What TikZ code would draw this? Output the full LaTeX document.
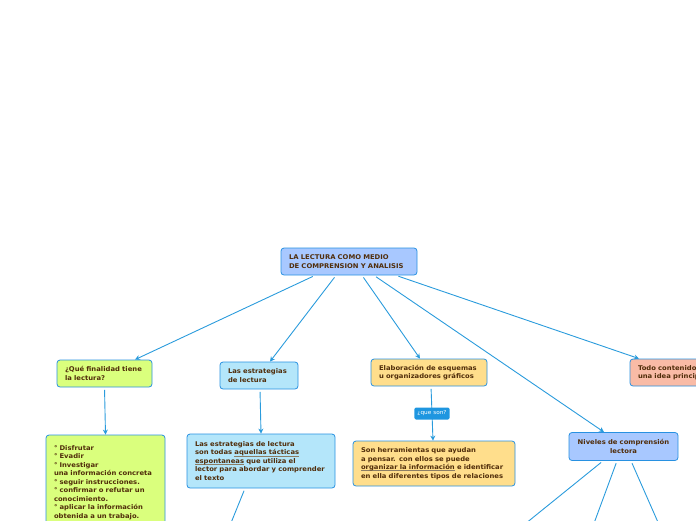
\documentclass[tikz,border=0pt]{standalone}
\usepackage{fontspec}
\setmainfont{DejaVu Sans}[FakeStretch=1.05]
\usetikzlibrary{arrows.meta}
\definecolor{linea}{RGB}{42,155,220}
\definecolor{borde}{RGB}{40,145,225}
\definecolor{texto}{RGB}{80,45,10}
\definecolor{azul}{RGB}{168,200,255}
\definecolor{verde}{RGB}{218,255,125}
\definecolor{celeste}{RGB}{180,230,250}
\definecolor{naranja}{RGB}{255,222,140}
\definecolor{salmon}{RGB}{249,187,166}
\definecolor{etiqueta}{RGB}{30,150,224}
\definecolor{raya}{RGB}{140,125,100}
\newcommand{\subrayado}[1]{\leavevmode\setbox0\hbox{#1}\rlap{\textcolor{raya}{\rule[-1.3pt]{\wd0}{0.45pt}}}\box0\relax}
\begin{document}
\begin{tikzpicture}[x=1pt, y=-1pt,
    caja/.style={draw=borde, line width=0.8pt, rounded corners=3pt, text=texto,
      font=\fontsize{6.5}{8.5}\selectfont\bfseries, align=left, inner xsep=8pt, inner ysep=0pt},
    flecha/.style={->, >={Stealth[length=5pt,width=5pt]}, draw=linea, line width=0.9pt, shorten <=2.5pt}]
      \useasboundingbox (0,0) rectangle (696,520);
      \clip (0,0) rectangle (696,520);
      % Central topic
      \node[caja, fill=azul, text width=120pt, minimum height=27pt] (lectura) at (349,261.5)
        {LA LECTURA COMO MEDIO\\DE COMPRENSION Y ANALISIS};
      % Main branches
      \node[caja, fill=verde, text width=79pt, minimum height=27pt] (finalidad) at (104.5,373.5)
        {¿Qué finalidad tiene\\la lectura?};
      \node[caja, fill=celeste, text width=62pt, minimum height=27pt] (estrategias) at (259,375.5)
        {Las estrategias\\de lectura};
      \node[caja, fill=naranja, text width=100pt, minimum height=27pt] (esquemas) at (429,372.5)
        {Elaboración de esquemas\\u organizadores gráficos};
      \node[caja, fill=salmon, text width=104pt, minimum height=27pt] (contenido) at (690,372.5)
        {Todo contenido\\una idea principal};
      \node[caja, fill=azul, text width=93pt, minimum height=28pt, align=center] (niveles) at (623.5,446.5)
        {Niveles de comprensión\\lectora};
      % Sub-topics
      \node[caja, fill=verde, text width=103pt, minimum height=95pt] (fines) at (105.5,482.5)
        {° Disfrutar\\° Evadir\\° Investigar\\una información concreta\\° seguir instrucciones.\\° confirmar o refutar un\\conocimiento.\\° aplicar la información\\obtenida a un trabajo.};
      \node[caja, fill=celeste, text width=132pt, minimum height=54pt] (tacticas) at (261,461)
        {Las estrategias de lectura\\son todas \subrayado{aquellas tácticas}\\\subrayado{espontaneas} que utiliza el\\lector para abordar y comprender\\el texto};
      \node[caja, fill=naranja, text width=146pt, minimum height=45pt] (herramientas) at (434,463.5)
        {Son herramientas que ayudan\\a pensar. con ellos se puede\\\subrayado{organizar la información} e identificar\\en ella diferentes tipos de relaciones};
      % Free ends below the page
      \coordinate (t1) at (222,545);
      \coordinate (n1) at (499,545);
      \coordinate (n2) at (586,545);
      \coordinate (n3) at (668,545);
      % Connectors
      \draw[flecha] ([xshift=-34pt]lectura.south) -- ([xshift=30.5pt]finalidad.north);
      \draw[flecha] ([xshift=-13pt]lectura.south) -- ([xshift=11pt]estrategias.north);
      \draw[flecha] ([xshift=13pt]lectura.south) -- ([xshift=-9pt]esquemas.north);
      \draw[flecha] ([xshift=25pt]lectura.south) -- ([xshift=-19.5pt]niveles.north);
      \draw[flecha] ([xshift=47pt]lectura.south) -- ([xshift=-51pt]contenido.north);
      \draw[flecha] (finalidad.south) -- (fines.north);
      \draw[flecha] ([xshift=1pt]estrategias.south) -- (tacticas.north);
      \draw[flecha] ([xshift=2pt]esquemas.south) -- ([xshift=-1pt]herramientas.north)
        node[pos=0.5, fill=etiqueta, text=white, rounded corners=1.5pt, inner xsep=3pt,
          minimum height=12pt, font=\fontsize{5.5}{6}\selectfont] (queson) {¿que son?};
      \draw[flecha] ([xshift=-16pt]tacticas.south) -- (t1);
      \draw[flecha] ([xshift=-20.5pt]niveles.south) -- (n1);
      \draw[flecha] ([xshift=-6.5pt]niveles.south) -- (n2);
      \draw[flecha] ([xshift=7.5pt]niveles.south) -- (n3);
\end{tikzpicture}
\end{document}
